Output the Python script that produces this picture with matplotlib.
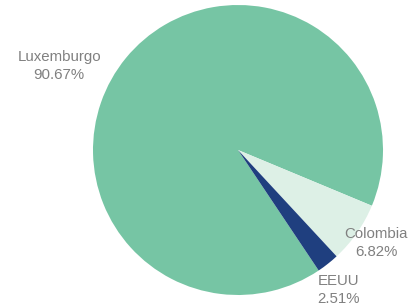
import numpy as np
import matplotlib.pyplot as plt

# data
countries = ['Luxemburgo', 'Colombia', 'EEUU']
shares = [90.67, 6.82, 2.51]
colors = ['#76c5a4', '#ddf0e6', '#1f3f7f']

# label placement (data coords, pie radius = 1)
label_pos = [(-1.234, 0.579), (0.952, -0.641), (0.690, -0.966)]

fig = plt.figure(figsize=(4.2, 3.08), dpi=100)
ax = fig.add_axes([93 / 420, 13 / 308, 290 / 420, 290 / 308])

wedges, _ = ax.pie(shares, colors=colors, startangle=-56.2,
                   counterclock=False, radius=1.0)
ax.set_xlim(-1, 1)
ax.set_ylim(-1, 1)
ax.set_aspect('equal')

for name, val, (x, y) in zip(countries, shares, label_pos):
    ax.text(x, y, f'{name}\n{val:.2f}%', ha='center', va='center',
            fontsize=10.8, color='#808080', family='Liberation Sans',
            linespacing=1.35, clip_on=False)

fig.savefig('out.png', dpi=100)
